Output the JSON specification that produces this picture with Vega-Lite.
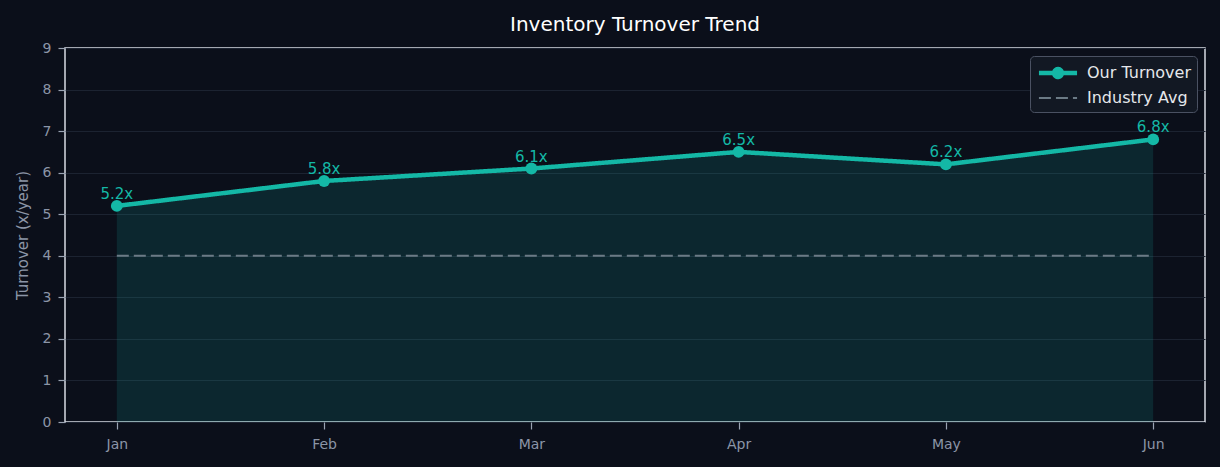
{
  "$schema": "https://vega.github.io/schema/vega-lite/v6.json",
  "autosize": "none",
  "width": 1140,
  "height": 374,
  "padding": {"left": 65, "top": 48, "right": 15, "bottom": 45},
  "background": "#0b0f1a",
  "title": {"text": "Inventory Turnover Trend", "color": "#ffffff", "font": "DejaVu Sans", "fontSize": 20, "fontWeight": "normal", "offset": 6, "anchor": "middle"},
  "config": {
    "view": {"stroke": "#d8dce3", "strokeWidth": 1.5, "fill": "#0b0f1a"},
    "axis": {"labelFont": "DejaVu Sans", "titleFont": "DejaVu Sans", "labelColor": "#8b95a7", "titleColor": "#8b95a7", "labelFontSize": 14, "titleFontSize": 15, "titleFontWeight": "normal", "domain": false, "tickColor": "#9aa3b2", "tickSize": 7, "tickWidth": 1.2, "gridColor": "#1c2331", "gridWidth": 1.2}
  },
  "data": {"values": [
    {"month": "Jan", "series": "Our Turnover", "value": 5.2},
    {"month": "Feb", "series": "Our Turnover", "value": 5.8},
    {"month": "Mar", "series": "Our Turnover", "value": 6.1},
    {"month": "Apr", "series": "Our Turnover", "value": 6.5},
    {"month": "May", "series": "Our Turnover", "value": 6.2},
    {"month": "Jun", "series": "Our Turnover", "value": 6.8},
    {"month": "Jan", "series": "Industry Avg", "value": 4},
    {"month": "Feb", "series": "Industry Avg", "value": 4},
    {"month": "Mar", "series": "Industry Avg", "value": 4},
    {"month": "Apr", "series": "Industry Avg", "value": 4},
    {"month": "May", "series": "Industry Avg", "value": 4},
    {"month": "Jun", "series": "Industry Avg", "value": 4}
  ]},
  "encoding": {
    "x": {"field": "month", "type": "ordinal", "sort": ["Jan", "Feb", "Mar", "Apr", "May", "Jun"], "scale": {"type": "point", "padding": 0.25}, "axis": {"title": null, "labelAngle": 0, "grid": false, "labelPadding": 8}},
    "y": {"field": "value", "type": "quantitative", "scale": {"domain": [0, 9], "nice": false}, "axis": {"title": "Turnover (x/year)", "values": [0,1,2,3,4,5,6,7,8,9], "grid": true, "labelPadding": 7, "titlePadding": 12}}
  },
  "layer": [
    {
      "transform": [{"filter": "datum.series === 'Our Turnover'"}],
      "mark": {"type": "area", "color": "#14b8a6", "opacity": 0.15}
    },
    {
      "mark": {"type": "line"},
      "encoding": {
        "color": {"field": "series", "type": "nominal", "scale": {"domain": ["Our Turnover", "Industry Avg"], "range": ["#14b8a6", "#6b7a85"]},
          "legend": {
            "title": null, "orient": "top-right", "offset": 8,
            "fillColor": "#121823", "strokeColor": "#4a5162", "cornerRadius": 4, "padding": 6,
            "labelColor": "#e5e7eb", "labelFont": "DejaVu Sans", "labelFontSize": 16, "labelOffset": 18,
            "symbolSize": 300, "symbolOffset": 11, "rowPadding": 2,
            "encode": {"symbols": {"update": {
              "shape": {"signal": "datum.value === 'Our Turnover' ? 'M-2.2,0L2.2,0M-0.45,0A0.45,0.45,0,1,1,0.45,0A0.45,0.45,0,1,1,-0.45,0' : 'M-2.2,0L2.2,0'"},
              "fill": {"signal": "datum.value === 'Our Turnover' ? '#14b8a6' : 'transparent'"},
              "strokeWidth": {"signal": "datum.value === 'Our Turnover' ? 4 : 2"}
            }}}
          }},
        "strokeDash": {"field": "series", "type": "nominal", "scale": {"domain": ["Our Turnover", "Industry Avg"], "range": [[1, 0], [12, 5]]}, "legend": null},
        "strokeWidth": {"field": "series", "type": "nominal", "scale": {"domain": ["Our Turnover", "Industry Avg"], "range": [4.5, 2]}, "legend": null}
      }
    },
    {
      "transform": [{"filter": "datum.series === 'Our Turnover'"}],
      "mark": {"type": "point", "filled": true, "color": "#14b8a6", "size": 140, "opacity": 1}
    },
    {
      "transform": [{"filter": "datum.series === 'Our Turnover'"}, {"calculate": "format(datum.value, '.1f') + 'x'", "as": "label"}],
      "mark": {"type": "text", "color": "#14b8a6", "font": "DejaVu Sans", "fontSize": 15, "baseline": "alphabetic", "dy": -7},
      "encoding": {"text": {"field": "label"}}
    }
  ]
}
